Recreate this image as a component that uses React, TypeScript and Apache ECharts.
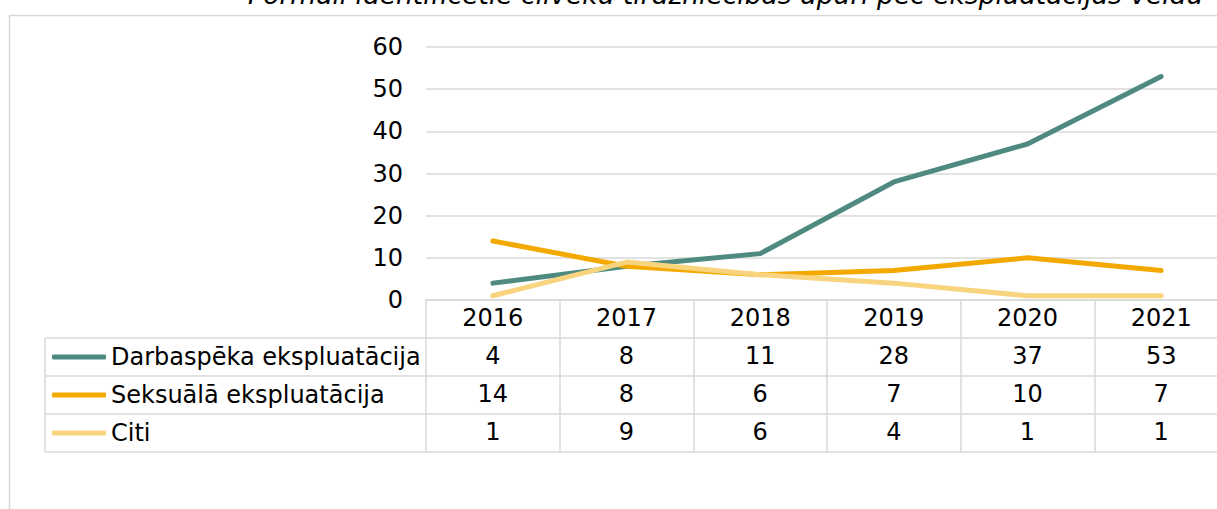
import React, { useEffect, useRef } from "react";
import * as echarts from "echarts";

const years = ["2016", "2017", "2018", "2019", "2020", "2021"];
const seriesNames = ["Darbaspēka ekspluatācija", "Seksuālā ekspluatācija", "Citi"];
const labour = [4, 8, 11, 28, 37, 53];
const sexual = [14, 8, 6, 7, 10, 7];
const other = [1, 9, 6, 4, 1, 1];
const colors = ["#4E8A80", "#F4A900", "#F9D47E"];
const title = "Formāli identificētie cilvēku tirdzniecības upuri pēc ekspluatācijas veidu";

const FONT = "'DejaVu Sans', Verdana, sans-serif";
const GRID_LINE = "#D9D9D9";

export default function App() {
  const ref = useRef<HTMLDivElement>(null);
  useEffect(() => {
    if (!ref.current) return;
    const chart = echarts.init(ref.current, null, { renderer: "svg" });
    const values = [labour, sexual, other];
    const rowAxes = values.map((vals, i) => ({
      type: "category",
      data: years,
      gridIndex: 0,
      position: "bottom",
      offset: 38 * (i + 1),
      boundaryGap: true,
      axisLine: { show: false },
      axisTick: { show: false },
      axisLabel: {
        fontSize: 24,
        color: "#000",
        fontFamily: FONT,
        margin: 6,
        formatter: (_v: string, idx: number) => String(vals[idx]),
      },
    }));
    const tableLines = [338, 376, 414, 452].map((y) => ({
      type: "line",
      shape: { x1: 45, y1: y, x2: 1217, y2: y },
      style: { stroke: GRID_LINE, lineWidth: 1.5 },
      silent: true,
    }));
    chart.setOption({
      animation: false,
      textStyle: { fontFamily: FONT },
      title: {
        text: title,
        left: 248,
        top: -19,
        padding: 0,
        textStyle: { fontSize: 26.5, fontStyle: "italic", fontWeight: "normal", color: "#000", fontFamily: FONT },
      },
      legend: {
        orient: "vertical",
        left: 52,
        top: 345,
        padding: 0,
        itemWidth: 54,
        itemHeight: 5,
        itemGap: 14,
        icon: "roundRect",
        data: seriesNames,
        textStyle: { fontSize: 24, color: "#000", fontFamily: FONT, lineHeight: 24, padding: [0, 0, 0, 0] },
        selectedMode: false,
      },
      grid: { left: 426, top: 47, width: 802, height: 253, containLabel: false, outerBoundsMode: "none" },
      xAxis: [
        {
          type: "category",
          data: years,
          boundaryGap: true,
          axisLine: { show: true, lineStyle: { color: GRID_LINE, width: 1.5 } },
          axisTick: { show: true, length: 152, lineStyle: { color: GRID_LINE, width: 1.5 } },
          axisLabel: { fontSize: 24, color: "#000", fontFamily: FONT, margin: 6 },
        },
        ...rowAxes,
      ],
      yAxis: {
        type: "value",
        min: 0,
        max: 60,
        interval: 10,
        axisLine: { show: false },
        axisTick: { show: false },
        axisLabel: { fontSize: 24, color: "#000", fontFamily: FONT, margin: 23 },
        splitLine: { lineStyle: { color: GRID_LINE, width: 1.5 } },
      },
      series: values.map((vals, i) => ({
        name: seriesNames[i],
        type: "line",
        data: vals,
        symbol: "none",
        itemStyle: { color: colors[i] },
        lineStyle: { color: colors[i], width: 5, cap: "round", join: "round" },
      })),
      graphic: [
        {
          type: "rect",
          shape: { x: 9.5, y: 15.5, width: 1400, height: 700 },
          style: { fill: "none", stroke: GRID_LINE, lineWidth: 1.5 },
          silent: true,
          z: -10,
        },
        ...tableLines,
        {
          type: "line",
          shape: { x1: 45, y1: 338, x2: 45, y2: 452 },
          style: { stroke: GRID_LINE, lineWidth: 1.5 },
          silent: true,
        },
      ],
    });
    return () => chart.dispose();
  }, []);
  return (
    <div
      ref={ref}
      style={{ position: "fixed", left: 0, top: 0, width: 1217, height: 509, background: "#fff" }}
    />
  );
}
